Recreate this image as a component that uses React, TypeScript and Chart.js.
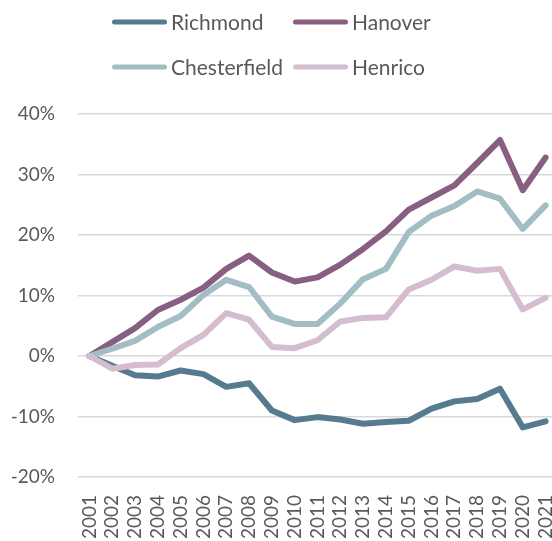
import React, { useEffect, useRef } from 'react';
import { Chart, registerables } from 'chart.js';

Chart.register(...registerables);

const years = ['2001', '2002', '2003', '2004', '2005', '2006', '2007', '2008', '2009', '2010', '2011', '2012', '2013', '2014', '2015', '2016', '2017', '2018', '2019', '2020', '2021'];

const richmond = [0, -1.6, -3.2, -3.4, -2.4, -3.0, -5.1, -4.5, -9.0, -10.6, -10.1, -10.5, -11.2, -10.9, -10.7, -8.7, -7.5, -7.1, -5.4, -11.8, -10.8];
const hanover = [0, 2.3, 4.6, 7.6, 9.3, 11.3, 14.4, 16.6, 13.8, 12.3, 13.0, 15.1, 17.7, 20.6, 24.2, 26.2, 28.2, 31.9, 35.7, 27.4, 32.8];
const chesterfield = [0, 1.2, 2.5, 4.8, 6.6, 10.1, 12.6, 11.4, 6.5, 5.3, 5.3, 8.7, 12.7, 14.4, 20.5, 23.2, 24.8, 27.2, 26.0, 21.0, 24.9];
const henrico = [0, -2.1, -1.5, -1.4, 1.3, 3.5, 7.1, 6.0, 1.5, 1.3, 2.6, 5.7, 6.3, 6.4, 11.0, 12.6, 14.8, 14.1, 14.4, 7.7, 9.6];

const seriesNames = ['Richmond', 'Hanover', 'Chesterfield', 'Henrico'];
const seriesColors = ['#567A8E', '#885F80', '#A3BDC5', '#D3BDCF'];
const seriesValues = [richmond, hanover, chesterfield, henrico];
const drawOrder = [3, 2, 1, 0];

const yTicks = [-20, -10, 0, 10, 20, 30, 40];

const TEXT = '#595959';

const legendPlugin = {
  id: 'customLegend',
  afterDraw(chart: any) {
    const ctx = chart.ctx;
    const cols = [112, 293];
    const rows = [22, 67];
    chart.data.datasets.forEach((ds: any, i: number) => {
      const x = cols[i % 2];
      const y = rows[Math.floor(i / 2)];
      ctx.save();
      ctx.strokeStyle = ds.borderColor;
      ctx.lineWidth = 5;
      ctx.lineCap = 'round';
      ctx.beginPath();
      ctx.moveTo(x + 2.5, y);
      ctx.lineTo(x + 52.5, y);
      ctx.stroke();
      ctx.fillStyle = TEXT;
      ctx.font = '21px Lato';
      ctx.textBaseline = 'middle';
      ctx.textAlign = 'left';
      ctx.fillText(ds.label, x + 59, y + 1);
      ctx.restore();
    });
  },
};

export default function App() {
  const ref = useRef<HTMLCanvasElement | null>(null);

  useEffect(() => {
    if (!ref.current) return;
    const chart = new Chart(ref.current, {
      type: 'line',
      data: {
        labels: years,
        datasets: seriesNames.map((name, i) => ({
          label: name,
          data: seriesValues[i],
          borderColor: seriesColors[i],
          backgroundColor: seriesColors[i],
          borderWidth: 6,
          borderCapStyle: 'round',
          borderJoinStyle: 'round',
          pointRadius: 0,
          pointHoverRadius: 0,
          tension: 0,
          fill: false,
          order: drawOrder[i],
        })),
      },
      options: {
        responsive: false,
        animation: false,
        layout: { padding: { top: 114, left: 0, right: 0, bottom: 0 } },
        plugins: {
          legend: { display: false },
          tooltip: { enabled: false },
          title: { display: false },
        },
        scales: {
          x: {
            type: 'category',
            offset: true,
            grid: { display: false, drawTicks: false },
            border: { display: false },
            ticks: {
              autoSkip: false,
              minRotation: 90,
              maxRotation: 90,
              padding: 18,
              color: TEXT,
              font: { family: 'Lato', size: 19 },
            },
            afterFit(scale: any) {
              scale.height = 64;
              scale.paddingLeft = 0;
              scale.paddingRight = 0;
            },
          },
          y: {
            min: -20,
            max: 40,
            afterBuildTicks(scale: any) {
              scale.ticks = yTicks.map((v) => ({ value: v }));
            },
            grid: { color: '#D9D9D9', lineWidth: 1.4, drawTicks: false },
            border: { display: false },
            ticks: {
              padding: 23,
              color: TEXT,
              font: { family: 'Lato', size: 19 },
              callback: (v: any) => `${v}%`,
            },
            afterFit(scale: any) {
              scale.width = 78;
              scale.paddingTop = 0;
              scale.paddingBottom = 0;
            },
          },
        },
      },
      plugins: [legendPlugin],
    } as any);
    return () => chart.destroy();
  }, []);

  return (
    <div style={{ position: 'fixed', left: 0, top: 0, width: 552, height: 541, overflow: 'hidden', background: '#fff' }}>
      <canvas ref={ref} width={557} height={541} style={{ display: 'block', width: 557, height: 541 }} />
    </div>
  );
}
